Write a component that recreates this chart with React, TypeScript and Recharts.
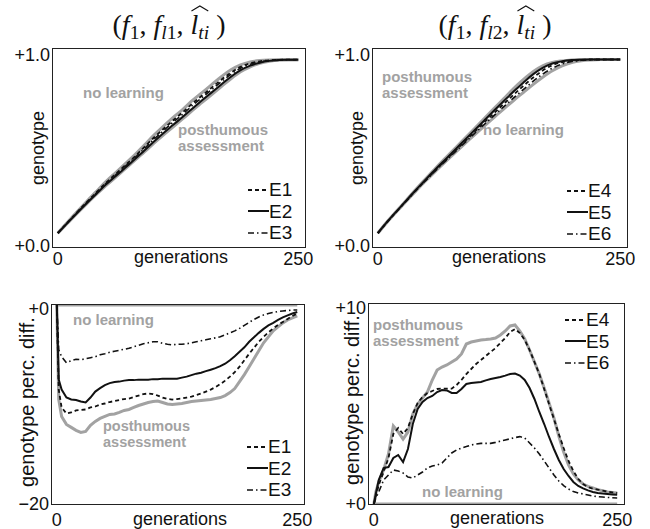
import React from 'react';
import { LineChart, Line, XAxis, YAxis, Legend } from 'recharts';

// generations sampled for the upper (genotype) panels
const topGens = [0, 10, 20, 30, 40, 50, 60, 70, 80, 90, 100, 110, 120, 130, 140, 150, 160, 170, 180, 190, 200, 210, 220, 230, 240, 250];

// (f1, fl1, l_ti) genotype
const tlNoLearning = [0.07, 0.125, 0.178, 0.23, 0.28, 0.33, 0.375, 0.42, 0.465, 0.515, 0.565, 0.61, 0.655, 0.695, 0.74, 0.78, 0.82, 0.86, 0.895, 0.92, 0.935, 0.942, 0.945, 0.946, 0.946, 0.946];
const tlPosthumous = [0.07, 0.12, 0.17, 0.218, 0.265, 0.31, 0.352, 0.395, 0.437, 0.48, 0.525, 0.567, 0.607, 0.648, 0.69, 0.73, 0.77, 0.81, 0.85, 0.885, 0.91, 0.928, 0.938, 0.944, 0.946, 0.946];
const tlE1 = [0.07, 0.123, 0.175, 0.226, 0.275, 0.324, 0.368, 0.412, 0.456, 0.505, 0.553, 0.597, 0.64, 0.681, 0.725, 0.765, 0.805, 0.845, 0.88, 0.91, 0.928, 0.938, 0.943, 0.945, 0.946, 0.946];
const tlE2 = [0.07, 0.121, 0.172, 0.221, 0.268, 0.315, 0.357, 0.4, 0.443, 0.487, 0.533, 0.576, 0.617, 0.658, 0.7, 0.741, 0.781, 0.821, 0.86, 0.893, 0.916, 0.931, 0.94, 0.944, 0.946, 0.946];
const tlE3 = [0.07, 0.122, 0.174, 0.224, 0.272, 0.32, 0.363, 0.407, 0.451, 0.497, 0.545, 0.588, 0.631, 0.671, 0.715, 0.755, 0.795, 0.835, 0.872, 0.903, 0.923, 0.935, 0.941, 0.945, 0.946, 0.946];

// (f1, fl2, l_ti) genotype
const trPosthumous = [0.07, 0.13, 0.185, 0.24, 0.295, 0.348, 0.4, 0.45, 0.5, 0.55, 0.6, 0.65, 0.7, 0.75, 0.8, 0.845, 0.885, 0.915, 0.932, 0.94, 0.945, 0.947, 0.947, 0.947, 0.947, 0.947];
const trNoLearning = [0.07, 0.128, 0.182, 0.235, 0.287, 0.337, 0.385, 0.432, 0.478, 0.523, 0.568, 0.612, 0.655, 0.698, 0.74, 0.78, 0.82, 0.857, 0.89, 0.915, 0.932, 0.941, 0.945, 0.947, 0.947, 0.947];
const trE4 = [0.07, 0.129, 0.183, 0.237, 0.29, 0.341, 0.391, 0.439, 0.487, 0.535, 0.583, 0.63, 0.677, 0.723, 0.769, 0.813, 0.855, 0.891, 0.918, 0.933, 0.941, 0.945, 0.947, 0.947, 0.947, 0.947];
const trE5 = [0.07, 0.129, 0.184, 0.238, 0.292, 0.344, 0.395, 0.444, 0.493, 0.542, 0.591, 0.64, 0.689, 0.737, 0.785, 0.83, 0.872, 0.905, 0.927, 0.938, 0.944, 0.946, 0.947, 0.947, 0.947, 0.947];
const trE6 = [0.07, 0.128, 0.183, 0.236, 0.289, 0.339, 0.388, 0.435, 0.482, 0.528, 0.575, 0.62, 0.665, 0.709, 0.753, 0.795, 0.836, 0.873, 0.903, 0.924, 0.937, 0.943, 0.946, 0.947, 0.947, 0.947];

// generations sampled for the lower (perc. diff.) panels
const bottomGens = [0, 2, 5, 10, 15, 20, 25, 30, 35, 40, 45, 50, 55, 60, 65, 70, 75, 80, 85, 90, 95, 100, 105, 110, 115, 120, 125, 130, 135, 140, 145, 150, 155, 160, 165, 170, 175, 180, 185, 190, 195, 200, 205, 210, 215, 220, 225, 230, 235, 240, 245, 250];

const blNoLearning = [0, 0, 0, 0, 0, 0, 0, 0, 0, 0, 0, 0, 0, 0, 0, 0, 0, 0, 0, 0, 0, 0, 0, 0, 0, 0, 0, 0, 0, 0, 0, 0, 0, 0, 0, 0, 0, 0, 0, 0, 0, 0, 0, 0, 0, 0, 0, 0, 0, 0, 0, 0];
const blPosthumous = [0, -9.5, -11.2, -12.0, -12.3, -12.6, -12.8, -12.7, -12.1, -11.7, -11.4, -11.2, -11.0, -10.95, -10.8, -10.6, -10.5, -10.3, -10.1, -9.95, -9.8, -9.7, -9.65, -9.8, -9.95, -10.0, -9.95, -9.9, -9.8, -9.7, -9.65, -9.6, -9.55, -9.5, -9.4, -9.3, -9.1, -8.8, -8.4, -7.7, -7.0, -6.2, -5.4, -4.6, -3.8, -3.2, -2.6, -2.2, -1.8, -1.5, -1.3, -1.1];
const blE1 = [0, -8.5, -10.3, -10.9, -10.8, -10.6, -10.55, -10.5, -10.3, -10.2, -10.0, -9.9, -9.75, -9.65, -9.55, -9.45, -9.4, -9.25, -9.1, -8.95, -8.9, -8.95, -9.1, -9.3, -9.45, -9.5, -9.45, -9.4, -9.3, -9.2, -9.05, -8.9, -8.7, -8.5, -8.25, -7.95, -7.6, -7.2, -6.75, -6.2, -5.55, -4.9, -4.3, -3.7, -3.2, -2.75, -2.35, -2.0, -1.7, -1.4, -1.1, -0.85];
const blE2 = [0, -7.5, -8.5, -9.3, -9.5, -9.55, -9.7, -9.8, -9.3, -8.7, -8.35, -8.05, -7.85, -7.75, -7.7, -7.6, -7.55, -7.55, -7.5, -7.5, -7.5, -7.45, -7.45, -7.4, -7.4, -7.4, -7.4, -7.3, -7.2, -7.05, -6.9, -6.8, -6.65, -6.5, -6.35, -6.15, -5.9, -5.55, -5.15, -4.7, -4.25, -3.7, -3.25, -2.8, -2.4, -2.05, -1.8, -1.5, -1.25, -1.05, -0.85, -0.7];
const blE3 = [0, -4.5, -5.2, -5.8, -5.6, -5.45, -5.5, -5.4, -5.3, -5.2, -5.0, -4.9, -4.75, -4.65, -4.55, -4.45, -4.35, -4.2, -4.05, -3.9, -3.8, -3.7, -3.7, -3.85, -3.95, -4.0, -3.95, -3.95, -3.9, -3.8, -3.7, -3.6, -3.5, -3.4, -3.3, -3.2, -3.0, -2.8, -2.6, -2.35, -2.05, -1.75, -1.45, -1.2, -1.0, -0.85, -0.75, -0.65, -0.6, -0.55, -0.5, -0.5];

const brNoLearning = [0, 0, 0, 0, 0, 0, 0, 0, 0, 0, 0, 0, 0, 0, 0, 0, 0, 0, 0, 0, 0, 0, 0, 0, 0, 0, 0, 0, 0, 0, 0, 0, 0, 0, 0, 0, 0, 0, 0, 0, 0, 0, 0, 0, 0, 0, 0, 0, 0, 0, 0, 0];
const brPosthumous = [0, 0.6, 1.1, 1.7, 2.5, 3.9, 3.6, 3.25, 3.6, 4.5, 5.0, 5.3, 5.6, 6.2, 6.7, 6.85, 6.95, 7.1, 7.25, 7.5, 8.0, 8.1, 8.15, 8.2, 8.22, 8.25, 8.3, 8.45, 8.65, 8.9, 8.95, 8.65, 8.25, 7.7, 7.1, 6.5, 5.8, 5.05, 4.3, 3.4, 2.6, 1.95, 1.5, 1.2, 1.0, 0.88, 0.8, 0.72, 0.66, 0.6, 0.57, 0.55];
const brE4 = [0, 0.4, 0.95, 1.6, 2.3, 3.5, 3.8, 3.5, 3.8, 4.5, 5.05, 5.35, 5.55, 5.65, 5.75, 5.77, 5.77, 5.77, 5.95, 6.2, 6.5, 6.75, 7.0, 7.2, 7.4, 7.6, 7.8, 8.05, 8.3, 8.6, 8.75, 8.55, 8.2, 7.7, 7.1, 6.5, 5.75, 5.0, 4.25, 3.5, 2.8, 2.15, 1.65, 1.25, 1.0, 0.85, 0.77, 0.72, 0.67, 0.62, 0.58, 0.55];
const brE5 = [0, 0.5, 1.2, 1.8, 1.85, 2.3, 2.45, 2.1, 2.75, 4.0, 4.75, 5.1, 5.3, 5.4, 5.6, 5.7, 5.68, 5.55, 5.55, 5.75, 6.0, 6.05, 6.08, 6.1, 6.18, 6.25, 6.3, 6.35, 6.42, 6.5, 6.52, 6.42, 6.2, 5.8, 5.25, 4.6, 4.0, 3.35, 2.75, 2.2, 1.75, 1.4, 1.1, 0.9, 0.78, 0.68, 0.6, 0.55, 0.52, 0.5, 0.48, 0.46];
const brE6 = [0, 0.3, 0.6, 1.2, 1.45, 1.7, 1.65, 1.55, 1.35, 1.3, 1.45, 1.6, 1.8, 1.9, 1.95, 2.05, 2.3, 2.55, 2.7, 2.8, 2.87, 2.95, 3.0, 3.03, 3.03, 3.03, 3.08, 3.14, 3.2, 3.26, 3.32, 3.37, 3.3, 3.05, 2.8, 2.5, 2.15, 1.8, 1.45, 1.15, 0.92, 0.75, 0.62, 0.55, 0.5, 0.45, 0.4, 0.37, 0.35, 0.33, 0.31, 0.3];

const xDomain: [number, number] = [-5, 257];
const xTicks = [0, 250];

const GRAY = '#a2a2a2';
const INK = '#111';
const SANS = '"Liberation Sans", Arial, Helvetica, sans-serif';
const SERIF = '"Liberation Serif", "Times New Roman", Times, serif';

type Kind = 'gray' | 'dash' | 'solid' | 'dashdot';
interface SeriesDef { key: string; name: string; kind: Kind; values: number[] }

const lineStyle: Record<Kind, { stroke: string; strokeWidth: number; strokeDasharray?: string }> = {
  gray: { stroke: GRAY, strokeWidth: 3 },
  dash: { stroke: INK, strokeWidth: 1.8, strokeDasharray: '4 3' },
  solid: { stroke: INK, strokeWidth: 2 },
  dashdot: { stroke: INK, strokeWidth: 1.6, strokeDasharray: '6 3 1.5 3' },
};

const buildRows = (gens: number[], series: SeriesDef[]) =>
  gens.map((g, i) => {
    const row: Record<string, number> = { gen: g };
    series.forEach((s) => { row[s.key] = s.values[i]; });
    return row;
  });

interface Box { x0: number; x1: number; y0: number; y1: number }

interface PanelProps {
  box: Box;
  gens: number[];
  series: SeriesDef[];
  yDomain: [number, number];
  yLabels: [string, string];
  xTickDy: number;
  yTopDy: number;
  yBottomDy: number;
  legend: { x: number; y: number };
  curve: 'monotone' | 'linear';
}

const Panel = ({ box, gens, series, yDomain, yLabels, xTickDy, yTopDy, yBottomDy, legend, curve }: PanelProps) => {
  const chartLeft = box.x0 - 53;
  const chartTop = box.y0 - 10;
  const width = box.x1 - chartLeft + 15;
  const height = box.y1 - chartTop + 30;
  const rows = buildRows(gens, series);
  const blacks = series.filter((s) => s.kind !== 'gray');

  return (
    <>
      <div style={{ position: 'absolute', left: chartLeft, top: chartTop }}>
        <LineChart width={width} height={height} data={rows} margin={{ top: 10, right: 15, left: 0, bottom: 0 }}>
          <XAxis
            dataKey="gen"
            type="number"
            domain={xDomain}
            ticks={xTicks}
            allowDataOverflow
            height={30}
            tickSize={0}
            tickMargin={0}
            axisLine={false}
            tick={(p: any) => (
              <text x={p.x} y={p.y + xTickDy} textAnchor="middle" fontSize={18} fontFamily={SANS} fill={INK}>
                {p.payload.value}
              </text>
            )}
          />
          <YAxis
            type="number"
            domain={yDomain}
            ticks={[yDomain[0], yDomain[1]]}
            allowDataOverflow
            width={53}
            tickSize={0}
            tickMargin={0}
            axisLine={false}
            tick={(p: any) => {
              const isTop = p.payload.value === yDomain[1];
              return (
                <text x={p.x - 3} y={p.y + (isTop ? yTopDy : yBottomDy)} textAnchor="end" fontSize={18} fontFamily={SANS} fill={INK}>
                  {isTop ? yLabels[1] : yLabels[0]}
                </text>
              );
            }}
          />
          {series.map((s) => (
            <Line
              key={s.key}
              dataKey={s.key}
              name={s.name}
              type={curve}
              dot={false}
              activeDot={false}
              isAnimationActive={false}
              legendType={s.kind === 'gray' ? 'none' : 'line'}
              {...lineStyle[s.kind]}
            />
          ))}
          <Legend
            layout="vertical"
            align="center"
            verticalAlign="middle"
            wrapperStyle={{ left: legend.x - chartLeft, top: legend.y - chartTop, width: 60 }}
            content={() => (
              <div>
                {blacks.map((s) => (
                  <div key={s.key} style={{ display: 'flex', alignItems: 'center', height: 21.5 }}>
                    <svg width={21} height={10} style={{ display: 'block' }}>
                      <line x1={0} y1={5} x2={21} y2={5} {...lineStyle[s.kind]} />
                    </svg>
                    <span style={{ fontFamily: SANS, fontSize: 19, color: INK, lineHeight: 1 }}>{s.name}</span>
                  </div>
                ))}
              </div>
            )}
          />
        </LineChart>
      </div>
      {/* plot frame */}
      <div
        style={{
          position: 'absolute',
          left: box.x0 - 1,
          top: box.y0 - 1,
          width: box.x1 - box.x0 + 2,
          height: box.y1 - box.y0 + 2,
          border: '1.3px solid #222',
          boxSizing: 'border-box',
          pointerEvents: 'none',
        }}
      />
    </>
  );
};

const Note = ({ x, y, lines, lh, fs = 15.5 }: { x: number; y: number; lines: string[]; lh: number; fs?: number }) => (
  <div
    style={{
      position: 'absolute',
      left: x,
      top: y - lh / 2,
      fontFamily: SANS,
      fontWeight: 700,
      fontSize: fs,
      lineHeight: `${lh}px`,
      color: GRAY,
      whiteSpace: 'nowrap',
    }}
  >
    {lines.map((l) => <div key={l}>{l}</div>)}
  </div>
);

const Centered = ({ x, y, rotate, children, style }: any) => (
  <div
    style={{
      position: 'absolute',
      left: x,
      top: y,
      transform: `translate(-50%, -50%)${rotate ? ' rotate(-90deg)' : ''}`,
      whiteSpace: 'nowrap',
      fontFamily: SANS,
      fontSize: 18,
      lineHeight: 1,
      color: INK,
      ...style,
    }}
  >
    {children}
  </div>
);

const subStyle: React.CSSProperties = { fontSize: '0.7em', verticalAlign: '-0.25em', lineHeight: 0 };

const Title = ({ x, y, idx }: { x: number; y: number; idx: string }) => (
  <Centered x={x} y={y} style={{ fontFamily: SERIF, fontSize: 28 }}>
    (<i>f</i><span style={subStyle}>1</span>, <i>f</i><span style={subStyle}><i>l</i>{idx}</span>,{' '}
    <span style={{ position: 'relative', display: 'inline-block' }}>
      <svg width="100%" height={7} viewBox="0 0 20 7" preserveAspectRatio="none" style={{ position: 'absolute', left: 0, top: -6 }}>
        <polyline points="1,6 10,1 19,6" fill="none" stroke={INK} strokeWidth={1.2} />
      </svg>
      <i>l</i><span style={subStyle}><i>ti</i></span>
    </span>{' '})
  </Centered>
);

const tlSeries: SeriesDef[] = [
  { key: 'nl', name: 'no learning', kind: 'gray', values: tlNoLearning },
  { key: 'pa', name: 'posthumous assessment', kind: 'gray', values: tlPosthumous },
  { key: 'e1', name: 'E1', kind: 'dash', values: tlE1 },
  { key: 'e2', name: 'E2', kind: 'solid', values: tlE2 },
  { key: 'e3', name: 'E3', kind: 'dashdot', values: tlE3 },
];
const trSeries: SeriesDef[] = [
  { key: 'nl', name: 'no learning', kind: 'gray', values: trNoLearning },
  { key: 'pa', name: 'posthumous assessment', kind: 'gray', values: trPosthumous },
  { key: 'e4', name: 'E4', kind: 'dash', values: trE4 },
  { key: 'e5', name: 'E5', kind: 'solid', values: trE5 },
  { key: 'e6', name: 'E6', kind: 'dashdot', values: trE6 },
];
const blSeries: SeriesDef[] = [
  { key: 'nl', name: 'no learning', kind: 'gray', values: blNoLearning },
  { key: 'pa', name: 'posthumous assessment', kind: 'gray', values: blPosthumous },
  { key: 'e1', name: 'E1', kind: 'dash', values: blE1 },
  { key: 'e2', name: 'E2', kind: 'solid', values: blE2 },
  { key: 'e3', name: 'E3', kind: 'dashdot', values: blE3 },
];
const brSeries: SeriesDef[] = [
  { key: 'nl', name: 'no learning', kind: 'gray', values: brNoLearning },
  { key: 'pa', name: 'posthumous assessment', kind: 'gray', values: brPosthumous },
  { key: 'e4', name: 'E4', kind: 'dash', values: brE4 },
  { key: 'e5', name: 'E5', kind: 'solid', values: brE5 },
  { key: 'e6', name: 'E6', kind: 'dashdot', values: brE6 },
];

export default function App() {
  return (
    <div style={{ position: 'absolute', left: 0, top: 0, width: 650, height: 529, background: '#fff', overflow: 'hidden' }}>
      <Title x={169} y={25} idx="1" />
      <Title x={495} y={25} idx="2" />

      <Panel box={{ x0: 53, x1: 305, y0: 49, y1: 247 }} gens={topGens} series={tlSeries} yDomain={[0, 1]} yLabels={['+0.0', '+1.0']}
        xTickDy={18} yTopDy={12} yBottomDy={5} legend={{ x: 248, y: 179 }} curve="monotone" />
      <Panel box={{ x0: 373, x1: 627, y0: 49, y1: 247 }} gens={topGens} series={trSeries} yDomain={[0, 1]} yLabels={['+0.0', '+1.0']}
        xTickDy={18} yTopDy={12} yBottomDy={5} legend={{ x: 567, y: 180 }} curve="monotone" />
      <Panel box={{ x0: 52, x1: 304, y0: 305, y1: 504 }} gens={bottomGens} series={blSeries} yDomain={[-20, 0]} yLabels={['\u221220', '+0']}
        xTickDy={22} yTopDy={10} yBottomDy={6} legend={{ x: 247, y: 436 }} curve="linear" />
      <Panel box={{ x0: 369, x1: 624, y0: 304, y1: 504 }} gens={bottomGens} series={brSeries} yDomain={[0, 10]} yLabels={['+0', '+10']}
        xTickDy={22} yTopDy={10} yBottomDy={6} legend={{ x: 565, y: 309 }} curve="linear" />

      <Centered x={38} y={148} rotate>genotype</Centered>
      <Centered x={357} y={148} rotate>genotype</Centered>
      <Centered x={27} y={402} rotate style={{ fontSize: 20 }}>genotype perc. diff.</Centered>
      <Centered x={352} y={400} rotate style={{ fontSize: 20 }}>genotype perc. diff.</Centered>

      <Centered x={181} y={257}>generations</Centered>
      <Centered x={499} y={257}>generations</Centered>
      <Centered x={180} y={519}>generations</Centered>
      <Centered x={497} y={518}>generations</Centered>

      <Note x={83} y={93} lh={16} fs={15} lines={['no learning']} />
      <Note x={178} y={130} lh={16} fs={15} lines={['posthumous', 'assessment']} />
      <Note x={382} y={77} lh={16} fs={15} lines={['posthumous', 'assessment']} />
      <Note x={483} y={130} lh={16} fs={15} lines={['no learning']} />
      <Note x={73} y={320} lh={16} fs={15} lines={['no learning']} />
      <Note x={103} y={426} lh={16} fs={14.5} lines={['posthumous', 'assessment']} />
      <Note x={373} y={325} lh={16} fs={15} lines={['posthumous', 'assessment']} />
      <Note x={422} y={492} lh={16} fs={15} lines={['no learning']} />
    </div>
  );
}
